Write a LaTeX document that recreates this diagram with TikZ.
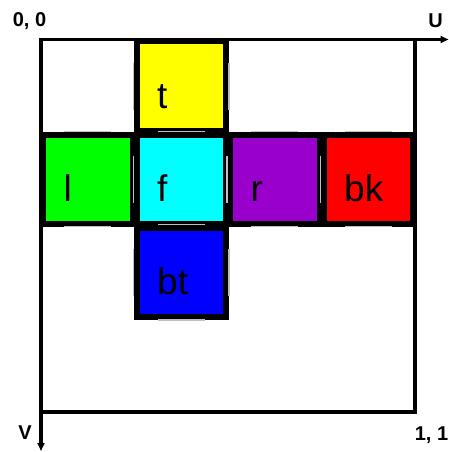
\documentclass[tikz,border=0pt]{standalone}
\usepackage{fontspec}
\setmainfont{Liberation Sans}
\usetikzlibrary{arrows.meta,calc}

\definecolor{faceyellow}{RGB}{255,255,0}
\definecolor{facegreen}{RGB}{0,255,0}
\definecolor{facecyan}{RGB}{0,255,255}
\definecolor{facepurple}{RGB}{153,0,204}
\definecolor{facered}{RGB}{255,0,0}
\definecolor{faceblue}{RGB}{0,0,255}
\tikzset{
  face/.style={draw=black,line width=6pt,minimum width=89.5pt,minimum height=89.1pt,inner sep=0pt},
  facetext/.style={anchor=base west,inner sep=0pt,font=\fontsize{37}{40}\selectfont},
  cornerlabel/.style={anchor=base,inner sep=0pt,font=\fontsize{20}{22}\selectfont\bfseries},
  seam/.style={draw=black!25,line width=1.5pt},
}

\begin{document}
\begin{tikzpicture}[x=1pt,y=-1pt,>={Triangle[length=8pt,width=7pt]}]
  \useasboundingbox (0,0) rectangle (449,452);
  % frame and axes
  \coordinate (O) at (41,39.5);
  \coordinate (uend) at (448.5,39.5);
  \coordinate (vend) at (41,451);
  \coordinate (P) at (415,412);
  \draw[line width=3.5pt] (O) rectangle (P);
  \draw[->,line width=3.5pt] (O) -- (uend);
  \draw[->,line width=3.5pt] (O) -- (vend);

  % cube faces
  \node[face,fill=faceyellow] (t) at (181.25,86.05) {};
  \node[face,fill=facegreen] (l) at (87.75,179.15) {};
  \node[face,fill=facecyan] (f) at (181.25,179.15) {};
  \node[face,fill=facepurple] (r) at (274.75,179.15) {};
  \node[face,fill=facered] (bk) at (368.25,179.15) {};
  \node[face,fill=faceblue] (bt) at (181.25,272.25) {};

  % seams
  \foreach \n in {t.west,t.east,f.west,r.west,bk.west,bt.west,bt.east}
    \draw[seam] ($(\n)+(0,-23.5)$) -- ($(\n)+(0,23.5)$);
  \foreach \n in {f.north,l.north,l.south,bt.north,r.north,r.south,bk.north,bk.south,bt.south}
    \draw[seam] ($(\n)+(-23.5,0)$) -- ($(\n)+(23.5,0)$);

  % face names
  \node[facetext] (tlbl) at ($(t.south west)+(23.5,-25)$) {t};
  \node[facetext] (llbl) at ($(l.south west)+(23.5,-25)$) {l};
  \node[facetext] (flbl) at ($(f.south west)+(23.5,-25)$) {f};
  \node[facetext] (rlbl) at ($(r.south west)+(23.5,-25)$) {r};
  \node[facetext] (bklbl) at ($(bk.south west)+(23.5,-25)$) {bk};
  \node[facetext] (btlbl) at ($(bt.south west)+(23.5,-25)$) {bt};

  % corner labels
  \node[cornerlabel] (origin) at (29.5,27) {0, 0};
  \node[cornerlabel] (ulbl) at (435.5,28) {U};
  \node[cornerlabel] (vlbl) at (25,439) {V};
  \node[cornerlabel] (onelbl) at (431.5,440) {1, 1};
\end{tikzpicture}
\end{document}
